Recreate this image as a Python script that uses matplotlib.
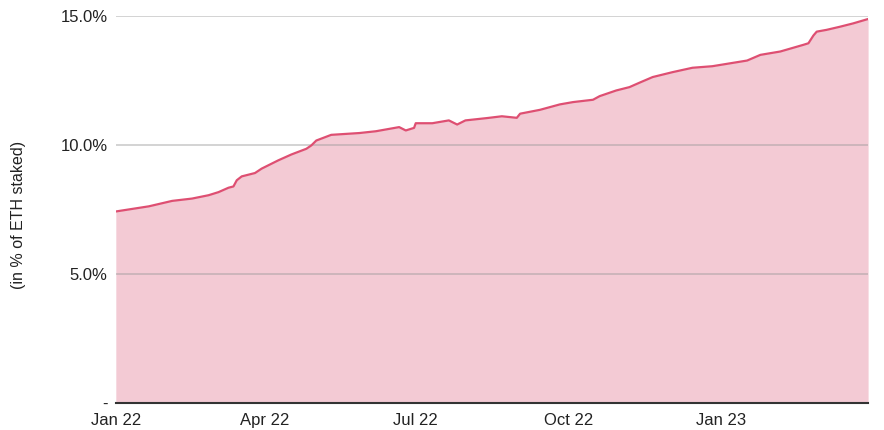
import matplotlib
matplotlib.use("Agg")
import matplotlib.pyplot as plt
import matplotlib.dates as mdates
import pandas as pd

# Share of ETH staked
dates = [
    "2022-01-01", "2022-01-21", "2022-02-04", "2022-02-16", "2022-02-26",
    "2022-03-04", "2022-03-10", "2022-03-13", "2022-03-15", "2022-03-18",
    "2022-03-26", "2022-03-30", "2022-04-09", "2022-04-17", "2022-04-26",
    "2022-04-29", "2022-05-02", "2022-05-11", "2022-05-28", "2022-06-07",
    "2022-06-21", "2022-06-25", "2022-06-30", "2022-07-01", "2022-07-11",
    "2022-07-21", "2022-07-26", "2022-07-31", "2022-08-13", "2022-08-22",
    "2022-08-31", "2022-09-02", "2022-09-14", "2022-09-26", "2022-10-04",
    "2022-10-16", "2022-10-20", "2022-10-30", "2022-11-07", "2022-11-13",
    "2022-11-21", "2022-12-03", "2022-12-15", "2022-12-27", "2023-01-17",
    "2023-01-25", "2023-02-06", "2023-02-20", "2023-02-23", "2023-02-26",
    "2023-02-28", "2023-03-06", "2023-03-14", "2023-03-22", "2023-03-31",
]
staked_pct = [
    7.42, 7.62, 7.83, 7.92, 8.05,
    8.17, 8.34, 8.39, 8.63, 8.78,
    8.91, 9.08, 9.40, 9.63, 9.85,
    9.98, 10.17, 10.39, 10.46, 10.53,
    10.69, 10.56, 10.66, 10.84, 10.84,
    10.95, 10.79, 10.95, 11.04, 11.11,
    11.05, 11.21, 11.36, 11.57, 11.66,
    11.75, 11.89, 12.11, 12.24, 12.41,
    12.63, 12.82, 12.99, 13.05, 13.27,
    13.49, 13.62, 13.88, 13.94, 14.24,
    14.39, 14.46, 14.58, 14.71, 14.88,
]
y_ticks = [0, 5, 10, 15]
y_labels = ["-", "5.0%", "10.0%", "15.0%"]
x_ticks = ["2022-01-01", "2022-04-01", "2022-07-01", "2022-10-01", "2023-01-01"]

LINE = "#de4f72"
FILL = "#f3cad4"

plt.rcParams["font.family"] = ["Liberation Sans", "DejaVu Sans"]

x = pd.to_datetime(dates)

fig = plt.figure(figsize=(8.84, 4.30), dpi=100)
ax = fig.add_axes([0.131, 0.063, 0.851, 0.900])

ax.fill_between(x, staked_pct, 0, color=FILL, lw=0, zorder=1)
ax.plot(x, staked_pct, color=LINE, lw=1.6, zorder=3)

ax.set_ylim(0, 15)
ax.set_xlim(x[0], x[-1])
ax.set_yticks(y_ticks)
ax.set_yticklabels(y_labels)
ax.set_xticks(pd.to_datetime(x_ticks))
ax.xaxis.set_major_formatter(mdates.DateFormatter("%b %y"))

ax.grid(axis="y", color="#999999", alpha=0.5, lw=1.2, zorder=2)
ax.set_axisbelow(False)
ax.tick_params(length=0, labelsize=12, colors="#222222")
ax.tick_params(axis="y", pad=6)
ax.tick_params(axis="x", pad=7)

for side in ("top", "right", "left"):
    ax.spines[side].set_visible(False)
ax.spines["bottom"].set_color("#333333")
ax.spines["bottom"].set_linewidth(1.5)
ax.spines["bottom"].set_zorder(4)

fig.text(0.021, 0.5, "(in % of ETH staked)", rotation=90, va="center",
         ha="center", fontsize=11.5, color="#222222")

fig.savefig("out.png", dpi=100)
